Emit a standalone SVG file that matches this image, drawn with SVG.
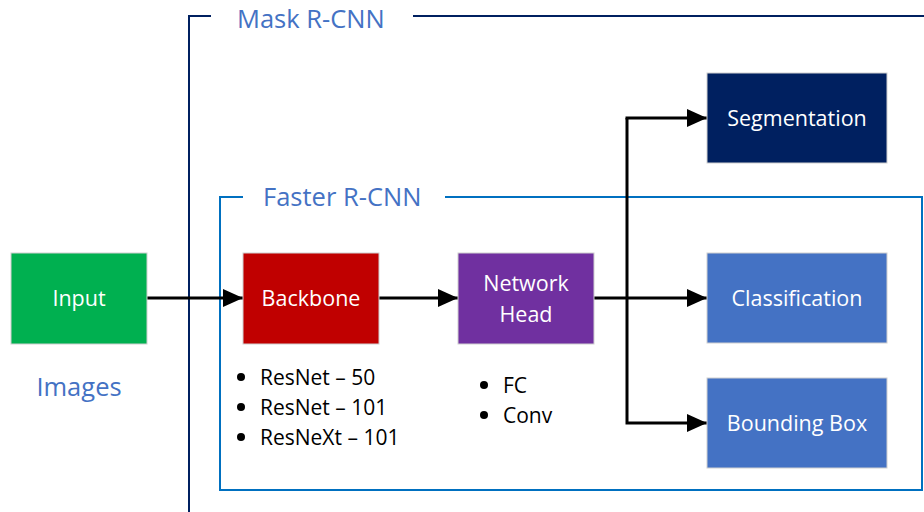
<svg xmlns="http://www.w3.org/2000/svg" width="924" height="512" viewBox="0 0 924 512">
<defs>
<style>
.box{stroke:#d0d0d0;stroke-width:1}
.lbl{font-family:"Open Sans","Liberation Sans",sans-serif;font-size:21.5px;fill:#ffffff;text-anchor:middle}
.ttl{font-family:"Open Sans","Liberation Sans",sans-serif;font-size:25.5px;fill:#4472C4}
.blt{font-family:"Open Sans","Liberation Sans",sans-serif;font-size:21px;fill:#000000}
.con{fill:none;stroke:#000;stroke-width:3}
</style>
<marker id="ah" viewBox="0 0 20 18" refX="20" refY="9" markerWidth="20" markerHeight="18" markerUnits="userSpaceOnUse" orient="auto">
<path d="M0,0 L20,9 L0,18 Z" fill="#000"/>
</marker>
</defs>
<rect width="924" height="512" fill="#fff"/>
<g id="mask-frame">
<path d="M189,512 V16 H211 M413,16 H924" fill="none" stroke="#002060" stroke-width="2"/>
<text class="ttl" x="237" y="28">Mask R-CNN</text>
</g>
<g id="faster-frame">
<path d="M243,197 H220 V490 H922 V197 H445" fill="none" stroke="#0070C0" stroke-width="2"/>
<text class="ttl" x="263" y="206">Faster R-CNN</text>
</g>
<g id="connectors">
<path class="con" d="M147,298 H243" marker-end="url(#ah)"/>
<path class="con" d="M379,298 H458" marker-end="url(#ah)"/>
<path class="con" d="M594,298 H707" marker-end="url(#ah)"/>
<path class="con" d="M627,118 V423 H707" marker-end="url(#ah)"/>
<path class="con" d="M625.5,118 H707" marker-end="url(#ah)"/>
</g>
<g id="input">
<rect class="box" x="11" y="253" width="136" height="91" fill="#00B050"/>
<text class="lbl" x="79" y="306">Input</text>
<text class="ttl" x="79" y="396" text-anchor="middle">Images</text>
</g>
<g id="backbone">
<rect class="box" x="243" y="253" width="136" height="91" fill="#C00000"/>
<text class="lbl" x="311" y="306">Backbone</text>
<circle cx="241" cy="377" r="4"/>
<circle cx="241" cy="407" r="4"/>
<circle cx="241" cy="437" r="4"/>
<text class="blt" x="260" y="385">ResNet – 50</text>
<text class="blt" x="260" y="415">ResNet – 101</text>
<text class="blt" x="260" y="445">ResNeXt – 101</text>
</g>
<g id="network-head">
<rect class="box" x="458" y="253" width="136" height="91" fill="#7030A0"/>
<text class="lbl" x="526" y="291">Network</text>
<text class="lbl" x="526" y="322">Head</text>
<circle cx="484" cy="385" r="4"/>
<circle cx="484" cy="415" r="4"/>
<text class="blt" x="503" y="393">FC</text>
<text class="blt" x="503" y="423">Conv</text>
</g>
<g id="segmentation">
<rect class="box" x="707" y="73" width="180" height="90" fill="#002060"/>
<text class="lbl" x="797" y="126">Segmentation</text>
</g>
<g id="classification">
<rect class="box" x="707" y="253" width="180" height="90" fill="#4472C4"/>
<text class="lbl" x="797" y="306">Classification</text>
</g>
<g id="bounding-box">
<rect class="box" x="707" y="378" width="180" height="90" fill="#4472C4"/>
<text class="lbl" x="797" y="431">Bounding Box</text>
</g>
</svg>
